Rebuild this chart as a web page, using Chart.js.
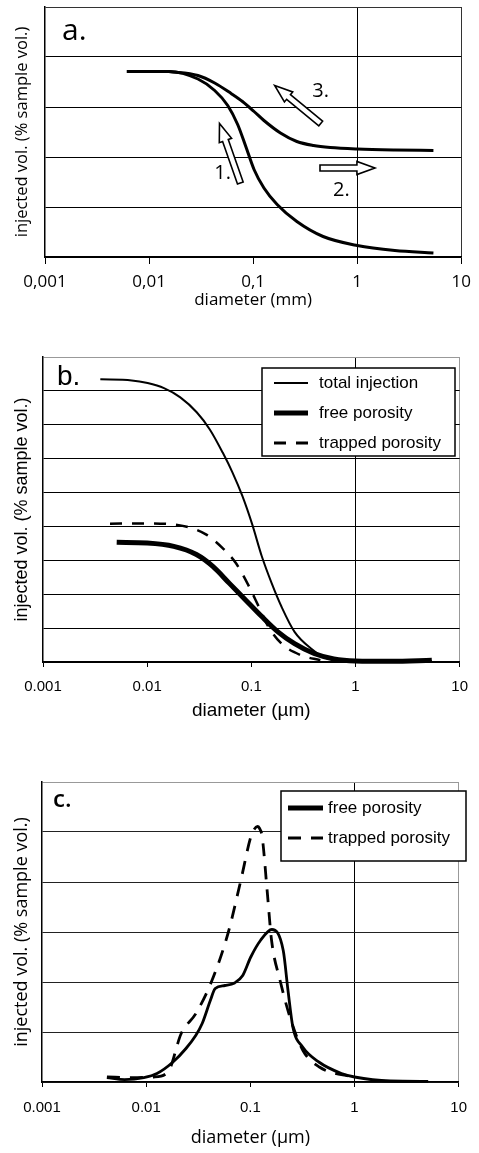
<!DOCTYPE html>
<html>
<head>
<meta charset="utf-8">
<script src="https://cdn.jsdelivr.net/npm/chart.js@4.4.0/dist/chart.umd.min.js"></script>
<style>
  html, body { margin: 0; padding: 0; background: #fff; }
  body { width: 479px; height: 1153px; position: relative; overflow: hidden; }
  canvas { position: absolute; left: 0; }
  #chartA { top: 0; }
  #chartB { top: 330px; }
  #chartC { top: 730px; }
</style>
</head>
<body>
<canvas id="chartA" width="479" height="320"></canvas>
<canvas id="chartB" width="479" height="400"></canvas>
<canvas id="chartC" width="479" height="423"></canvas>
<script>
// Ejes comunes (diámetro en escala log)
const xTickValues = [0.001, 0.01, 0.1, 1, 10];
const xTickLabelsA = ['0,001', '0,01', '0,1', '1', '10'];
const xTickLabelsBC = ['0.001', '0.01', '0.1', '1', '10'];

// Panel a: curvas de inyección (1.) y retirada (3.)
const aCurve1Diam = [0.0061, 0.0155, 0.0295, 0.0427, 0.057, 0.071, 0.085, 0.102, 0.127, 0.17, 0.263, 0.47, 1.0, 2.3, 5.4];
const aCurve1Vol = [3.71, 3.71, 3.56, 3.33, 3.03, 2.65, 2.21, 1.75, 1.38, 1.05, 0.71, 0.41, 0.23, 0.13, 0.08];
const aCurve3Diam = [0.0155, 0.0295, 0.0427, 0.0614, 0.079, 0.102, 0.127, 0.183, 0.263, 0.38, 0.55, 1.0, 2.3, 5.4];
const aCurve3Vol = [3.71, 3.63, 3.48, 3.27, 3.11, 2.91, 2.73, 2.48, 2.31, 2.23, 2.19, 2.16, 2.14, 2.13];

// Flechas del panel a (coordenadas en datos)
const arrowLabels = ['1.', '2.', '3.'];
const arrowFromDiam = [0.0753, 0.439, 0.446];
const arrowFromVol = [1.48, 1.78, 2.67];
const arrowToDiam = [0.0475, 1.48, 0.161];
const arrowToVol = [2.67, 1.78, 3.43];
const arrowLabelDiam = [0.051, 0.705, 0.446];
const arrowLabelVol = [1.68, 1.33, 3.31];

// Panel b: curvas acumuladas
const bTotalDiam = [0.00355, 0.0071, 0.0101, 0.0145, 0.0208, 0.0299, 0.0398, 0.0531, 0.066, 0.082, 0.102, 0.126, 0.157, 0.195, 0.26, 0.374, 0.537, 1.0, 5.4];
const bTotalVol = [8.34, 8.31, 8.23, 8.08, 7.81, 7.37, 6.87, 6.18, 5.59, 4.90, 4.06, 3.12, 2.32, 1.63, 0.89, 0.40, 0.10, 0.03, 0.03];
const bFreeDiam = [0.0051, 0.01, 0.018, 0.0297, 0.0427, 0.0616, 0.088, 0.126, 0.18, 0.26, 0.40, 0.62, 1.0, 2.2, 5.4];
const bFreeVol = [3.53, 3.51, 3.41, 3.17, 2.82, 2.32, 1.83, 1.34, 0.89, 0.54, 0.25, 0.09, 0.03, 0.02, 0.05];
const bTrapDiam = [0.0044, 0.01, 0.024, 0.037, 0.053, 0.071, 0.095, 0.118, 0.146, 0.195, 0.30, 0.46];
const bTrapVol = [4.08, 4.09, 3.99, 3.76, 3.36, 2.92, 2.23, 1.63, 1.04, 0.54, 0.20, 0.05];

// Panel c: distribuciones
const cFreeDiam = [0.0042, 0.0062, 0.0095, 0.0127, 0.0181, 0.0241, 0.0299, 0.0345, 0.0413, 0.046, 0.057, 0.0706, 0.0845, 0.101, 0.125, 0.161, 0.207, 0.230, 0.256, 0.318, 0.454, 0.75, 1.0, 2.2, 5.1];
const cFreeVol = [0.087, 0.047, 0.087, 0.17, 0.40, 0.67, 0.93, 1.17, 1.63, 1.87, 1.93, 1.98, 2.13, 2.50, 2.83, 3.05, 2.63, 1.83, 1.10, 0.70, 0.40, 0.17, 0.10, 0.02, 0.013];
const cTrapDiam = [0.0042, 0.0072, 0.0118, 0.0162, 0.0217, 0.030, 0.0428, 0.061, 0.081, 0.101, 0.1086, 0.117, 0.122, 0.13, 0.145, 0.16, 0.193, 0.24, 0.32, 0.46, 1.0];
const cTrapVol = [0.10, 0.087, 0.10, 0.20, 0.97, 1.37, 2.03, 2.97, 4.03, 4.90, 5.05, 5.11, 5.08, 4.90, 3.83, 2.83, 2.03, 1.30, 0.63, 0.30, 0.09];

const FONT_HUMAN = "'Open Sans', sans-serif";
const FONT_ARIAL = "'Liberation Sans', Arial, sans-serif";

function points(xs, ys) {
    return xs.map((x, i) => ({ x: x, y: ys[i] }));
}

function line(label, xs, ys, width, dash) {
    return {
        label: label,
        data: points(xs, ys),
        borderColor: '#000',
        borderWidth: width,
        borderDash: dash || [],
        pointRadius: 0,
        fill: false,
        cubicInterpolationMode: 'monotone',
        clip: false
    };
}

// Texto de panel (a., b., c.)
function panelLabel(text, x, y, font) {
    return {
        id: 'panelLabel',
        afterDraw(chart) {
            const ctx = chart.ctx;
            ctx.save();
            ctx.font = font;
            ctx.fillStyle = '#000';
            ctx.textBaseline = 'alphabetic';
            ctx.fillText(text, x, y);
            ctx.restore();
        }
    };
}

// Leyenda con recuadro dentro del área del gráfico
function boxLegend(o) {
    return {
        id: 'boxLegend',
        afterDatasetsDraw(chart) {
            const ctx = chart.ctx;
            const [x1, y1, x2, y2] = o.rect;
            ctx.save();
            ctx.fillStyle = '#fff';
            ctx.fillRect(x1, y1, x2 - x1, y2 - y1);
            ctx.strokeStyle = '#000';
            ctx.lineWidth = 1.5;
            ctx.strokeRect(x1, y1, x2 - x1, y2 - y1);
            ctx.font = o.font;
            ctx.textBaseline = 'middle';
            chart.data.datasets.forEach((ds, i) => {
                const y = o.rowY[i];
                ctx.beginPath();
                ctx.setLineDash(ds.borderDash || []);
                ctx.lineWidth = o.lineWidths[i];
                ctx.strokeStyle = '#000';
                ctx.moveTo(o.sampleX[0], y);
                ctx.lineTo(o.sampleX[1], y);
                ctx.stroke();
                ctx.setLineDash([]);
                ctx.fillStyle = '#000';
                ctx.fillText(ds.label, o.textX, y);
            });
            ctx.restore();
        }
    };
}

// Flechas huecas del panel a
const arrowPlugin = {
    id: 'hollowArrows',
    afterDatasetsDraw(chart) {
        const ctx = chart.ctx;
        const xs = chart.scales.x, ys = chart.scales.y;
        ctx.save();
        arrowLabels.forEach((lab, i) => {
            const x0 = xs.getPixelForValue(arrowFromDiam[i]), y0 = ys.getPixelForValue(arrowFromVol[i]);
            const x1 = xs.getPixelForValue(arrowToDiam[i]), y1 = ys.getPixelForValue(arrowToVol[i]);
            const len = Math.hypot(x1 - x0, y1 - y0);
            const ux = (x1 - x0) / len, uy = (y1 - y0) / len;
            const nx = -uy, ny = ux;
            const w = 3, hw = 6.5, hl = 18;
            const bx = x1 - ux * hl, by = y1 - uy * hl;
            ctx.beginPath();
            ctx.moveTo(x0 + nx * w, y0 + ny * w);
            ctx.lineTo(bx + nx * w, by + ny * w);
            ctx.lineTo(bx + nx * hw, by + ny * hw);
            ctx.lineTo(x1, y1);
            ctx.lineTo(bx - nx * hw, by - ny * hw);
            ctx.lineTo(bx - nx * w, by - ny * w);
            ctx.lineTo(x0 - nx * w, y0 - ny * w);
            ctx.closePath();
            ctx.fillStyle = '#fff';
            ctx.fill();
            ctx.lineWidth = 1.6;
            ctx.strokeStyle = '#000';
            ctx.lineJoin = 'miter';
            ctx.stroke();
            ctx.font = '20px ' + FONT_HUMAN;
            ctx.fillStyle = '#000';
            ctx.textAlign = 'center';
            ctx.textBaseline = 'middle';
            ctx.fillText(lab, xs.getPixelForValue(arrowLabelDiam[i]), ys.getPixelForValue(arrowLabelVol[i]));
        });
        ctx.restore();
    }
};

function buildPanel(id, cfg) {
    return new Chart(document.getElementById(id), {
        type: 'line',
        data: { datasets: cfg.datasets },
        options: {
            responsive: false,
            animation: false,
            devicePixelRatio: 1,
            layout: { padding: { top: cfg.padTop, right: cfg.padRight, bottom: 0, left: 0 } },
            plugins: { legend: { display: false }, tooltip: { enabled: false } },
            scales: {
                x: {
                    type: 'logarithmic',
                    min: 0.001,
                    max: 10,
                    afterBuildTicks: s => { s.ticks = xTickValues.map(v => ({ value: v })); },
                    ticks: {
                        autoSkip: false,
                        maxRotation: 0,
                        color: '#000',
                        font: cfg.tickFont,
                        padding: cfg.tickPad,
                        callback: (v, i) => cfg.tickLabels[i]
                    },
                    grid: {
                        color: c => c.tick && c.tick.value === 1 ? '#000' : (c.tick && c.tick.value === 10 ? cfg.frameColor : 'rgba(0,0,0,0)'),
                        tickColor: '#000',
                        tickLength: cfg.tickLen,
                        lineWidth: 1
                    },
                    border: { color: '#000', width: 1.5 },
                    title: {
                        display: true,
                        text: cfg.xTitle,
                        color: '#000',
                        font: cfg.xTitleFont,
                        padding: { top: 0, bottom: cfg.xTitlePad }
                    },
                    afterFit: s => { s.height = cfg.xHeight; }
                },
                y: {
                    type: 'linear',
                    min: 0,
                    max: cfg.yMax,
                    ticks: { display: false, stepSize: 1 },
                    grid: {
                        color: c => c.tick && c.tick.value === cfg.yMax ? cfg.frameColor : cfg.gridColor,
                        drawTicks: false,
                        lineWidth: 1
                    },
                    border: { color: '#000', width: 1.5 },
                    title: {
                        display: true,
                        text: cfg.yTitle,
                        color: '#000',
                        font: cfg.yTitleFont,
                        padding: { top: cfg.yTitlePad, bottom: 0 }
                    },
                    afterFit: s => { s.width = cfg.yWidth; }
                }
            }
        },
        plugins: cfg.plugins
    });
}

document.addEventListener('DOMContentLoaded', function() {
    // Panel a
    buildPanel('chartA', {
        datasets: [
            line('1', aCurve1Diam, aCurve1Vol, 3),
            line('3', aCurve3Diam, aCurve3Vol, 3)
        ],
        padTop: 7, padRight: 13, yWidth: 45, xHeight: 63, yMax: 5,
        frameColor: '#333', gridColor: '#000',
        tickLabels: xTickLabelsA, tickFont: { family: FONT_HUMAN, size: 17 }, tickPad: 8, tickLen: 7,
        xTitle: 'diameter (mm)', xTitleFont: { family: FONT_HUMAN, size: 17 }, xTitlePad: 10,
        yTitle: 'injected vol. (% sample vol.)', yTitleFont: { family: FONT_HUMAN, size: 16.5 }, yTitlePad: 12,
        plugins: [arrowPlugin, panelLabel('a.', 62, 40, '30px ' + FONT_HUMAN)]
    });

    // Panel b
    buildPanel('chartB', {
        datasets: [
            line('total injection', bTotalDiam, bTotalVol, 2),
            line('free porosity', bFreeDiam, bFreeVol, 5),
            line('trapped porosity', bTrapDiam, bTrapVol, 2.5, [12, 10])
        ],
        padTop: 27, padRight: 10, yWidth: 43, xHeight: 68, yMax: 9,
        frameColor: '#999', gridColor: '#000',
        tickLabels: xTickLabelsBC, tickFont: { family: FONT_ARIAL, size: 15 }, tickPad: 11, tickLen: 5,
        xTitle: 'diameter (µm)', xTitleFont: { family: FONT_ARIAL, size: 19 }, xTitlePad: 8,
        yTitle: 'injected vol. (% sample vol.)', yTitleFont: { family: FONT_ARIAL, size: 18 }, yTitlePad: 11,
        plugins: [
            boxLegend({ rect: [262, 38, 455, 126], rowY: [53, 83, 113], sampleX: [274, 308], textX: 319,
                        lineWidths: [2, 5, 3], font: '17px ' + FONT_ARIAL }),
            panelLabel('b.', 57, 55, '28px ' + FONT_ARIAL)
        ]
    });

    // Panel c
    buildPanel('chartC', {
        datasets: [
            line('free porosity', cFreeDiam, cFreeVol, 2.8),
            line('trapped porosity', cTrapDiam, cTrapVol, 2.8, [13, 10])
        ],
        padTop: 52, padRight: 8, yWidth: 42, xHeight: 71, yMax: 6,
        frameColor: '#999', gridColor: '#222',
        tickLabels: xTickLabelsBC, tickFont: { family: FONT_ARIAL, size: 15 }, tickPad: 12, tickLen: 5,
        xTitle: 'diameter (µm)', xTitleFont: { family: FONT_HUMAN, size: 18 }, xTitlePad: 4,
        yTitle: 'injected vol. (% sample vol.)', yTitleFont: { family: FONT_HUMAN, size: 18 }, yTitlePad: 11,
        plugins: [
            boxLegend({ rect: [281, 61, 466, 131], rowY: [78, 108], sampleX: [288, 323], textX: 328,
                        lineWidths: [5, 3], font: '17px ' + FONT_ARIAL }),
            panelLabel('c.', 53, 77, '600 24px ' + FONT_HUMAN)
        ]
    });
});
</script>
</body>
</html>
